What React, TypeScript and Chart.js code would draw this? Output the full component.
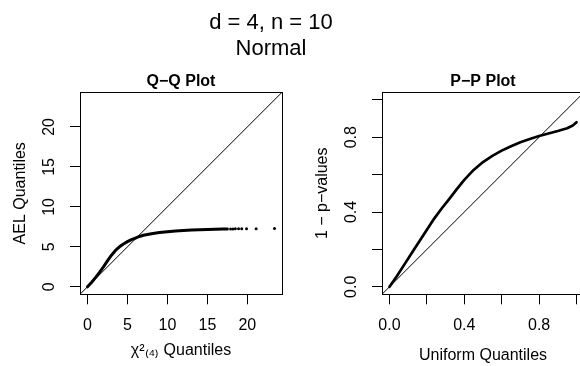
import React, { useEffect, useRef } from "react";
import { Chart, registerables } from "chart.js";

Chart.register(...registerables);

// ---- text ----
const mainTitle = ["d = 4, n = 10", "Normal"];
const qqTitle = "Q−Q Plot";
const ppTitle = "P−P Plot";
const qqXLabel = "χ²₍₄₎ Quantiles";
const qqYLabel = "AEL Quantiles";
const ppXLabel = "Uniform Quantiles";
const ppYLabel = "1 − p−values";

// ---- axes ----
const qqTicks = [0, 5, 10, 15, 20];
const qqTickLabels = ["0", "5", "10", "15", "20"];
const qqLimits = [-0.936, 24.336];

const ppTicks = [0, 0.2, 0.4, 0.6, 0.8, 1.0];
const ppTickLabels = ["0.0", "", "0.4", "", "0.8", ""];
const ppLimits = [-0.04, 1.04];

// ---- Q-Q data (chi-square(4) quantiles vs AEL quantiles) ----
const qqCurveX = [0, 0.5, 1, 1.5, 2, 2.5, 3, 3.5, 4, 4.5, 5, 5.5, 6, 6.5, 7, 8, 9, 10, 11, 12, 13, 14, 15, 16, 17, 17.5];
const qqCurveY = [0, 0.55, 1.15, 1.8, 2.5, 3.25, 3.95, 4.55, 5.0, 5.35, 5.65, 5.9, 6.1, 6.3, 6.45, 6.65, 6.8, 6.9, 6.98, 7.05, 7.1, 7.15, 7.18, 7.2, 7.22, 7.23];
const qqTailX = [17.9, 18.2, 18.5, 18.9, 19.3, 19.9, 21.1, 23.4];
const qqTailY = [7.24, 7.24, 7.25, 7.25, 7.26, 7.27, 7.28, 7.3];

// ---- P-P data (uniform quantiles vs 1 - p-values) ----
const ppX = [0, 0.04, 0.08, 0.12, 0.16, 0.2, 0.24, 0.28, 0.32, 0.36, 0.4, 0.45, 0.5, 0.55, 0.6, 0.65, 0.7, 0.75, 0.8, 0.85, 0.9, 0.95, 0.98, 1.0];
const ppY = [0, 0.058, 0.12, 0.182, 0.244, 0.305, 0.366, 0.42, 0.47, 0.522, 0.572, 0.625, 0.667, 0.7, 0.728, 0.752, 0.773, 0.79, 0.806, 0.82, 0.833, 0.848, 0.862, 0.88];

const FONT = '"Liberation Sans", Arial, Helvetica, sans-serif';
Chart.defaults.font.family = FONT;
Chart.defaults.color = "#000";

const framePlugin = {
  id: "frame",
  afterDraw(chart: any) {
    const { ctx, chartArea: a } = chart;
    ctx.save();
    ctx.strokeStyle = "#000";
    ctx.lineWidth = 1;
    const l = Math.round(a.left) + 0.5;
    const t = Math.round(a.top) + 0.5;
    const r = Math.round(a.right) + 0.5;
    const b = Math.round(a.bottom) + 0.5;
    ctx.strokeRect(l, t, r - l, b - t);
    ctx.restore();
  },
};

function pts(xs: number[], ys: number[]) {
  return xs.map((x, i) => ({ x, y: ys[i] }));
}

function labelFor(ticks: number[], labels: string[]) {
  return (v: any) => {
    const i = ticks.findIndex((t) => Math.abs(t - Number(v)) < 1e-9);
    return i >= 0 ? labels[i] : "";
  };
}

function makeConfig(o: {
  title: string;
  xLabel: string;
  yLabel: string;
  ticks: number[];
  tickLabels: string[];
  limits: number[];
  yTickPad: number;
  xTitlePad: number;
  datasets: any[];
}) {
  const axisCommon = (isX: boolean) => ({
    type: "linear",
    min: o.limits[0],
    max: o.limits[1],
    position: isX ? "bottom" : "left",
    afterBuildTicks: (s: any) => {
      s.ticks = o.ticks.map((v) => ({ value: v }));
    },
    afterFit: (s: any) => {
      if (isX) s.height = 71.7;
      else s.width = 80;
    },
    border: { display: false },
    grid: {
      display: true,
      drawOnChartArea: false,
      drawTicks: true,
      tickLength: 10,
      color: "#000",
      lineWidth: 1,
    },
    ticks: {
      autoSkip: false,
      color: "#000",
      font: { size: 16, family: FONT },
      padding: isX ? 11.6 : o.yTickPad,
      minRotation: isX ? 0 : 90,
      maxRotation: isX ? 0 : 90,
      crossAlign: isX ? "near" : "center",
      callback: labelFor(o.ticks, o.tickLabels),
    },
    title: {
      display: true,
      text: isX ? o.xLabel : o.yLabel,
      color: "#000",
      font: { size: 16, family: FONT },
      padding: isX ? { top: 0, bottom: o.xTitlePad } : { top: 11.4, bottom: 0 },
    },
  });
  return {
    type: "scatter",
    data: { datasets: o.datasets },
    options: {
      responsive: false,
      animation: false,
      devicePixelRatio: 1,
      layout: { padding: { top: 72.4, left: 0, right: 20, bottom: 0 } },
      plugins: {
        legend: { display: false },
        tooltip: { enabled: false },
        title: {
          display: true,
          text: o.title,
          fullSize: false,
          color: "#000",
          font: { size: 16, weight: "bold", family: FONT },
          padding: { top: 0, bottom: 0.7 },
        },
      },
      scales: { x: axisCommon(true), y: axisCommon(false) },
    },
    plugins: [framePlugin],
  };
}

export default function App() {
  const leftRef = useRef<HTMLCanvasElement>(null);
  const rightRef = useRef<HTMLCanvasElement>(null);

  useEffect(() => {
    const qq = new Chart(
      leftRef.current as HTMLCanvasElement,
      makeConfig({
        title: qqTitle,
        xLabel: qqXLabel,
        yLabel: qqYLabel,
        ticks: qqTicks,
        tickLabels: qqTickLabels,
        limits: qqLimits,
        yTickPad: 11.1,
        xTitlePad: 6,
        datasets: [
          {
            label: "y = x",
            data: pts(qqLimits, qqLimits),
            showLine: true,
            borderColor: "#000",
            borderWidth: 1,
            pointRadius: 0,
          },
          {
            label: "AEL",
            data: pts(qqCurveX, qqCurveY),
            showLine: true,
            borderColor: "#000",
            borderWidth: 3,
            borderJoinStyle: "round",
            borderCapStyle: "round",
            pointRadius: 0,
          },
          {
            label: "AEL tail",
            data: pts(qqTailX, qqTailY),
            showLine: false,
            backgroundColor: "#000",
            borderWidth: 0,
            pointRadius: 1.5,
          },
        ],
      }) as any
    );
    const pp = new Chart(
      rightRef.current as HTMLCanvasElement,
      makeConfig({
        title: ppTitle,
        xLabel: ppXLabel,
        yLabel: ppYLabel,
        ticks: ppTicks,
        tickLabels: ppTickLabels,
        limits: ppLimits,
        yTickPad: 9.2,
        xTitlePad: 0.5,
        datasets: [
          {
            label: "y = x",
            data: pts(ppLimits, ppLimits),
            showLine: true,
            borderColor: "#000",
            borderWidth: 1,
            pointRadius: 0,
          },
          {
            label: "1 - p",
            data: pts(ppX, ppY),
            showLine: true,
            borderColor: "#000",
            borderWidth: 2.7,
            borderJoinStyle: "round",
            borderCapStyle: "round",
            pointRadius: 0,
          },
        ],
      }) as any
    );
    return () => {
      qq.destroy();
      pp.destroy();
    };
  }, []);

  return (
    <div
      style={{
        position: "fixed",
        left: 0,
        top: 0,
        width: 580,
        height: 366,
        overflow: "hidden",
        background: "#fff",
      }}
    >
      <canvas ref={leftRef} width={302} height={366} style={{ position: "absolute", left: 0, top: 0 }} />
      <canvas ref={rightRef} width={302} height={366} style={{ position: "absolute", left: 302, top: 0 }} />
      <div
        style={{
          position: "absolute",
          left: 0,
          top: 8.85,
          width: 542,
          textAlign: "center",
          fontFamily: FONT,
          fontSize: 22,
          lineHeight: "25.7px",
          color: "#000",
        }}
      >
        {mainTitle.map((t) => (
          <div key={t}>{t}</div>
        ))}
      </div>
    </div>
  );
}
